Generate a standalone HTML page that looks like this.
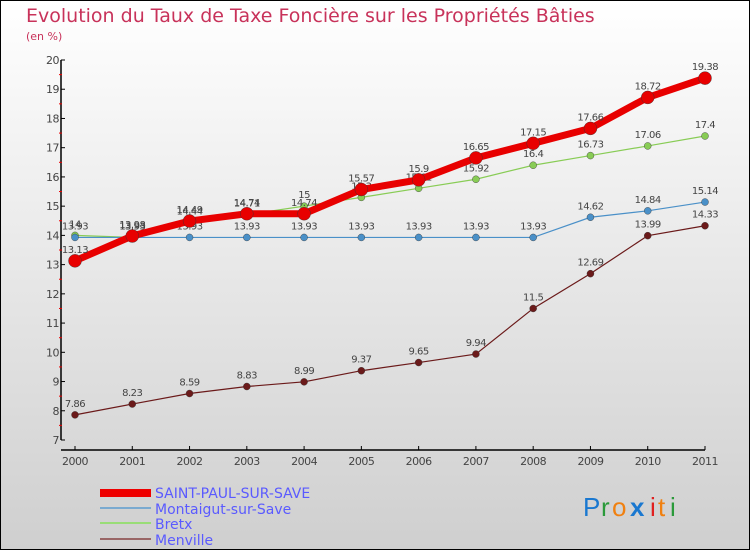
<!DOCTYPE html>
<html><head><meta charset="utf-8"><style>
body{margin:0}
#c{width:750px;height:550px;position:relative;overflow:hidden;box-sizing:border-box;border:1px solid #000;background:linear-gradient(#ffffff,#cfcfcf);font-family:"DejaVu Sans","Liberation Sans",sans-serif}
</style></head><body>
<div id="c">
<svg width="750" height="550" style="position:absolute;left:-1px;top:-1px" id="svg">
<text x="26" y="22" font-size="19" fill="#c8325a">Evolution du Taux de Taxe Foncière sur les Propriétés Bâties</text>
<text x="26" y="40" font-size="11" fill="#c8325a">(en %)</text>
<g id="axes"></g><g id="series"></g>
<g>
<rect x="100" y="489" width="51" height="8" fill="#e00"/>
<text x="155" y="498" font-size="14" fill="#5a5aff">SAINT-PAUL-SUR-SAVE</text>
<rect x="100" y="507" width="51" height="2" fill="#7aaad0"/>
<text x="155" y="514" font-size="14" fill="#5a5aff">Montaigut-sur-Save</text>
<rect x="100" y="522" width="51" height="2" fill="#99dd77"/>
<text x="155" y="529" font-size="14" fill="#5a5aff">Bretx</text>
<rect x="100" y="538" width="51" height="2" fill="#996666"/>
<text x="155" y="545" font-size="14" fill="#5a5aff">Menville</text>
</g>
<g font-size="26" font-family="Liberation Sans,sans-serif">
<text x="583" y="516" fill="#1a78d0">P</text><text x="601" y="516" fill="#2a9a3a">r</text><text x="612" y="516" fill="#f08010">o</text><text x="630" y="516" fill="#1a78d0" font-weight="bold">x</text><text x="650" y="516" fill="#e02020">i</text><text x="658" y="516" fill="#f08010">t</text><text x="670" y="516" fill="#2a9a3a">i</text>
</g>
</svg>
</div>
<script>
const years=["2000","2001","2002","2003","2004","2005","2006","2007","2008","2009","2010","2011"];
const yTicks=[7,8,9,10,11,12,13,14,15,16,17,18,19,20];
const saintPaul=[13.13,13.98,14.49,14.74,14.74,15.57,15.9,16.65,17.15,17.66,18.72,19.38];
const montaigut=[13.93,13.93,13.93,13.93,13.93,13.93,13.93,13.93,13.93,14.62,14.84,15.14];
const bretx=[14,13.93,14.44,14.71,15,15.3,15.61,15.92,16.4,16.73,17.06,17.4];
const menville=[7.86,8.23,8.59,8.83,8.99,9.37,9.65,9.94,11.5,12.69,13.99,14.33];
const NS="http://www.w3.org/2000/svg";
const X=i=>75+i*(630/11);
const Y=v=>440-(v-7)*(380/13);
function mk(tag,attrs,parent){const e=document.createElementNS(NS,tag);for(const k in attrs)e.setAttribute(k,attrs[k]);parent.appendChild(e);return e;}
const ax=document.getElementById('axes');
let l=mk('line',{x1:61,y1:Y(20),x2:61,y2:Y(7),stroke:'#000','stroke-width':1.5},ax);


l=mk('line',{x1:61,y1:450,x2:705,y2:450,stroke:'#000','stroke-width':1.5},ax);


yTicks.forEach(v=>{
 mk('line',{x1:61,y1:Y(v),x2:65,y2:Y(v),stroke:'#000'},ax);
 if(v<20)mk('line',{x1:59,y1:Y(v+0.5),x2:62,y2:Y(v+0.5),stroke:'#e00'},ax);
 const t=mk('text',{x:59,y:Y(v)+4,'font-size':11,fill:'#444','text-anchor':'end','letter-spacing':'-0.5'},ax);
 t.textContent=v;
 
 
});
years.forEach((y,i)=>{
 mk('line',{x1:X(i),y1:446,x2:X(i),y2:450,stroke:'#000'},ax);
 const t=mk('text',{x:X(i),y:465,'font-size':11,fill:'#444','text-anchor':'middle','letter-spacing':'-0.5'},ax);
 t.textContent=y;
 
 
});
const sg=document.getElementById('series');
function draw(vals,color,w,r,name){
 const g=mk('g',{},sg);
 
 
 mk('polyline',{points:vals.map((v,i)=>X(i)+','+Y(v)).join(' '),fill:'none',stroke:color,'stroke-width':w},g);
 vals.forEach((v,i)=>{
  const c=mk('circle',{cx:X(i),cy:Y(v),r:r,fill:color,stroke:'#333','stroke-width':0.4},g);
  
  
  const t=mk('text',{x:X(i),y:Y(v)-8,'font-size':10,fill:'#444','text-anchor':'middle','letter-spacing':'-0.5'},g);
  t.textContent=v;
  
  
 });
}
draw(menville,'#6b1a1a',1.2,3.5,'series-menville');
draw(bretx,'#88cc55',1.2,3.5,'series-bretx');
draw(montaigut,'#4a90c8',1.2,3.5,'series-montaigut');
draw(saintPaul,'#e80000',7,6.5,'series-saint-paul');
</script>
</body></html>
